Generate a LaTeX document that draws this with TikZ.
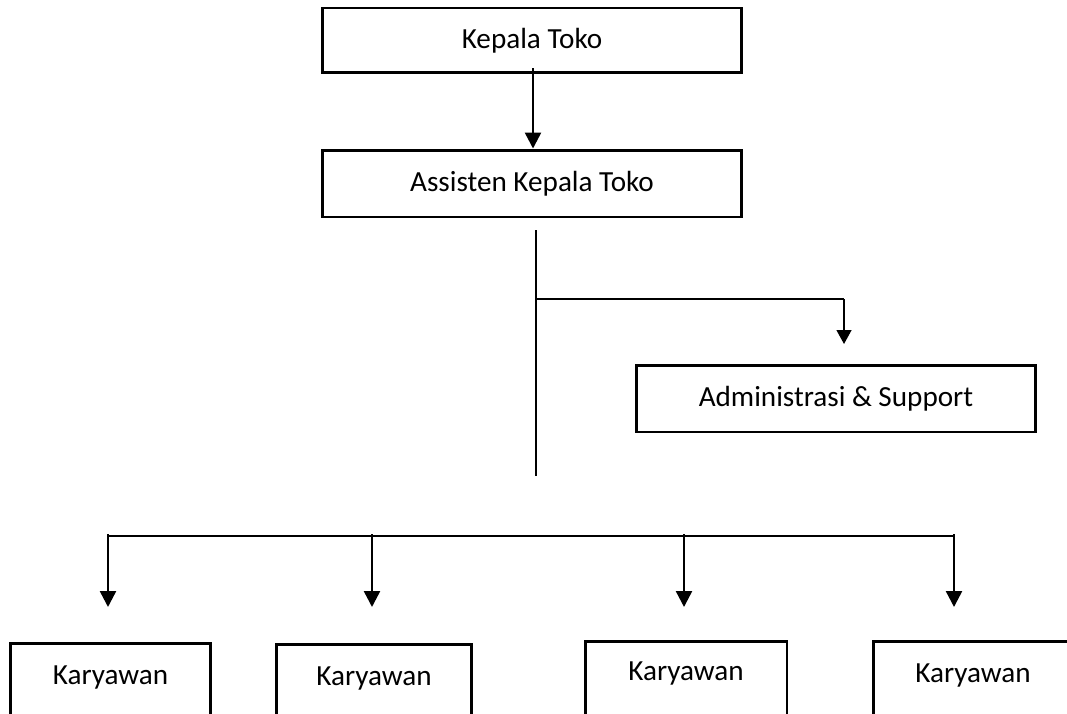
\documentclass[tikz,border=0pt]{standalone}
\usepackage{fontspec}
\setmainfont{Carlito}
\usetikzlibrary{arrows.meta}
\begin{document}
\begin{tikzpicture}[x=0.02cm,y=-0.02cm,
  box/.style={draw=black,line width=1.7pt,rectangle,inner sep=0pt,
    font=\fontsize{16.6}{19}\selectfont},
  openbox/.style={box,anchor=north,text height=0.82cm,text depth=1.6cm},
  arr/.style={line width=1.4pt,-{Triangle[length=0.32cm,width=0.32cm]}},
  thin/.style={line width=0.75pt}]
\useasboundingbox (0,0) rectangle (1067,713);
\clip (0,0) rectangle (1067,713);
% top boxes
\node[box,minimum width=8.4cm,minimum height=1.3cm] (k) at (532,40.5) {Kepala Toko};
\node[box,minimum width=8.4cm,minimum height=1.34cm] (a) at (532,183.5) {Assisten Kepala Toko};
\node[box,minimum width=8.0cm,minimum height=1.34cm] (adm) at (836,398.5) {Administrasi \& Support};
% bottom boxes
\node[openbox,minimum width=4.02cm] (b1) at (110.5,642) {Karyawan};
\node[openbox,minimum width=3.92cm] (b2) at (374,643) {Karyawan};
\node[openbox,minimum width=4.04cm,text height=0.78cm] (b3) at (686,640) {Karyawan};
\node[openbox,minimum width=4.0cm] (b4) at (973,640) {Karyawan};
% connector top
\draw[arr] ([yshift=0.12cm]k.south -| 533,0) -- (533,0 |- a.north);
% main trunk
\coordinate (t1) at (536,230);
\coordinate (t2) at (536,476);
\draw[line width=1pt] (t1) -- (t2);
% branch to admin
\coordinate (br) at (536,299);
\coordinate (bc) at (844,299);
\coordinate (be) at (844,344);
\draw[thin] (br) -- (bc);
\draw[thin,-{Triangle[length=0.28cm,width=0.3cm]}] (bc) -- (be);
% bottom bus
\coordinate (h1) at (109,536);
\coordinate (h2) at (954,536);
\draw[thin] (h1) -- (h2);
\foreach \x/\n in {108/1,372/2,684/3,954/4}{
  \coordinate (s\n) at (\x,534);
  \coordinate (e\n) at (\x,607);
  \draw[arr] (s\n) -- (e\n);
}
\end{tikzpicture}
\end{document}
